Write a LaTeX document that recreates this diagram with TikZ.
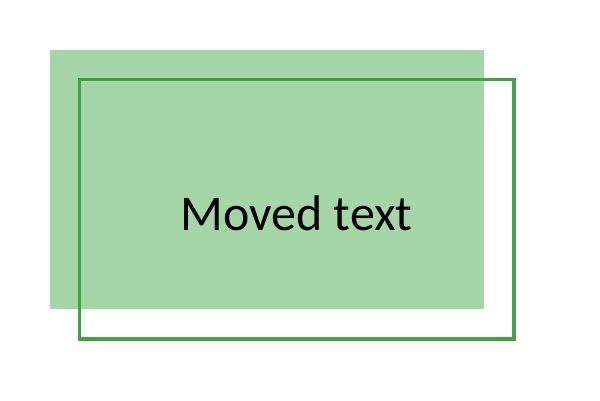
\documentclass[tikz,border=0pt]{standalone}
\usepackage{fontspec}
\setmainfont{Carlito}
\definecolor{fillgreen}{HTML}{A5D6A7}
\definecolor{linegreen}{HTML}{43A047}
\begin{document}
\begin{tikzpicture}[x=1pt,y=-1pt]
\useasboundingbox (0,0) rectangle (600,400);
\fill[fillgreen] (50,50) rectangle (484,309);
\draw[linegreen,line width=3.2pt] (79.5,79.5) rectangle (514,339);
\node[font=\fontsize{50}{54}\selectfont,text=black,inner sep=0pt] (t) at (296.5,213) {Moved text};
\end{tikzpicture}
\end{document}
